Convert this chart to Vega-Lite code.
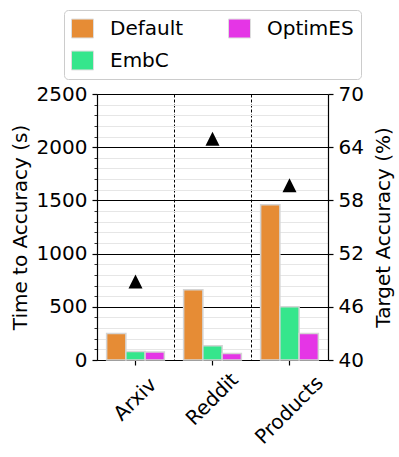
{
  "$schema": "https://vega.github.io/schema/vega-lite/v6.json",
  "width": 231,
  "height": 266,
  "autosize": {"type": "none"},
  "padding": {"left": 97, "top": 94, "right": 71, "bottom": 97},
  "config": {
    "font": "DejaVu Sans",
    "view": {"stroke": null},
    "axis": {"labelFont": "DejaVu Sans", "titleFont": "DejaVu Sans", "labelFontSize": 20, "titleFontSize": 20, "titleFontWeight": "normal", "labelColor": "black", "titleColor": "black", "domainColor": "black", "tickColor": "black", "domainWidth": 1.2, "tickWidth": 1.2}
  },
  "datasets": {
    "bars": [
      {"dataset": "Arxiv", "method": "Default", "time": 250},
      {"dataset": "Arxiv", "method": "EmbC", "time": 80},
      {"dataset": "Arxiv", "method": "OptimES", "time": 75},
      {"dataset": "Reddit", "method": "Default", "time": 660},
      {"dataset": "Reddit", "method": "EmbC", "time": 135},
      {"dataset": "Reddit", "method": "OptimES", "time": 60},
      {"dataset": "Products", "method": "Default", "time": 1460},
      {"dataset": "Products", "method": "EmbC", "time": 500},
      {"dataset": "Products", "method": "OptimES", "time": 250}
    ],
    "acc": [
      {"dataset": "Arxiv", "accuracy": 48.85},
      {"dataset": "Reddit", "accuracy": 64.95},
      {"dataset": "Products", "accuracy": 59.7}
    ]
  },
  "layer": [
    {
      "data": {"name": "bars"},
      "mark": {"type": "bar", "stroke": "#d4d4d4", "strokeWidth": 1.5},
      "encoding": {
        "x": {
          "field": "dataset", "type": "nominal", "sort": ["Arxiv", "Reddit", "Products"],
          "scale": {"paddingInner": 0, "paddingOuter": 0},
          "axis": {"title": null, "grid": false, "labelAngle": -45, "labelAlign": "center", "labelBaseline": "middle", "tickSize": 5,
            "labelPadding": {"condition": {"test": "datum.value === 'Products'", "value": 45}, "value": 34}}
        },
        "xOffset": {"field": "method", "type": "nominal", "sort": ["Default", "EmbC", "OptimES"], "scale": {"paddingInner": 0, "paddingOuter": 0.5}},
        "y": {
          "field": "time", "type": "quantitative",
          "scale": {"domain": [0, 2500], "nice": false},
          "axis": {
            "title": "Time to Accuracy (s)", "orient": "left", "titlePadding": 6, "format": "d",
            "values": [0,100,200,300,400,500,600,700,800,900,1000,1100,1200,1300,1400,1500,1600,1700,1800,1900,2000,2100,2200,2300,2400,2500],
            "labelExpr": "datum.value % 500 === 0 ? datum.label : ''",
            "labelPadding": 5,
            "grid": true,
            "gridColor": {"condition": {"test": "datum.value % 500 === 0", "value": "black"}, "value": "#e6e6e6"},
            "gridWidth": {"condition": {"test": "datum.value % 500 === 0", "value": 1.2}, "value": 1},
            "tickSize": {"condition": {"test": "datum.value % 500 === 0", "value": 5}, "value": 3},
            "tickWidth": {"condition": {"test": "datum.value % 500 === 0", "value": 1.2}, "value": 0.8}
          }
        },
        "color": {
          "field": "method", "type": "nominal",
          "scale": {"domain": ["Default", "OptimES", "EmbC"], "range": ["#e68c35", "#e535e6", "#35e68c"]},
          "legend": {
            "title": null, "orient": "none", "legendX": -33, "legendY": -84, "columns": 2, "direction": "horizontal",
            "labelFontSize": 20, "labelFont": "DejaVu Sans", "labelColor": "black",
            "symbolType": "M-1,-0.86H1V0.86H-1Z", "symbolSize": 484, "symbolStrokeColor": "#dddddd", "symbolStrokeWidth": 1,
            "labelOffset": 16, "columnPadding": 42, "rowPadding": 9,
            "strokeColor": "#cccccc", "cornerRadius": 4, "padding": 7, "fillColor": "white"
          }
        }
      }
    },
    {
      "data": {"name": "acc"},
      "mark": {"type": "point", "shape": "M-1,1L1,1L0,-1Z", "size": 196, "filled": true, "color": "black", "opacity": 1},
      "encoding": {
        "x": {
          "field": "dataset", "type": "nominal", "sort": ["Arxiv", "Reddit", "Products"],
          "axis": {"title": null, "orient": "bottom", "grid": true, "gridColor": "black", "gridDash": [3, 2], "gridWidth": 1, "bandPosition": 0, "labels": false, "ticks": false, "domain": false}
        },
        "y": {
          "field": "accuracy", "type": "quantitative",
          "scale": {"domain": [40, 70], "nice": false},
          "axis": {"title": "Target Accuracy (%)", "orient": "right", "values": [40, 46, 52, 58, 64, 70], "grid": false, "tickSize": 5, "labelPadding": 5, "titleAngle": -90, "titlePadding": 30}
        }
      }
    }
  ],
  "resolve": {"scale": {"y": "independent"}, "axis": {"x": "independent"}}
}
